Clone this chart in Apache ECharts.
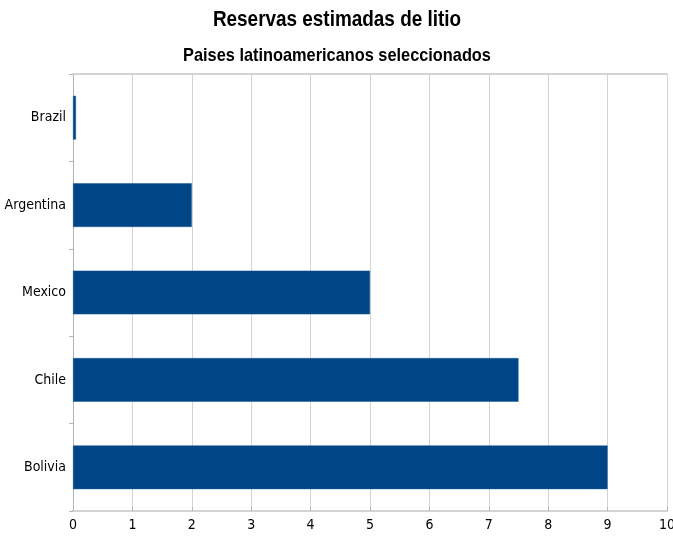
<!DOCTYPE html>
<html><head><meta charset="utf-8">
<script src="https://cdn.jsdelivr.net/npm/echarts@6/dist/echarts.min.js"></script>
<style>html,body{margin:0;padding:0;background:#fff}#c{width:673px;height:537px}</style>
</head><body><div id="c"></div>
<script>
const categories = ["Bolivia", "Chile", "Mexico", "Argentina", "Brazil"];
const values = [9, 7.5, 5, 2, 0.05];
const xTicks = [0, 1, 2, 3, 4, 5, 6, 7, 8, 9, 10];
const titleText = "Reservas estimadas de litio";
const subtitleText = "Paises latinoamericanos seleccionados";

const FONT = '"Liberation Sans Narrow", "DejaVu Sans Condensed", "Liberation Sans", sans-serif';
const TFONT = '"Liberation Sans", Arial, sans-serif';
const chart = echarts.init(document.getElementById('c'), null, {renderer: 'canvas'});
chart.setOption({
  animation: false,
  backgroundColor: '#ffffff',
  graphic: [
    {type: 'text', x: 337, y: 20, scaleX: 0.86, style: {text: titleText, fontFamily: TFONT, fontSize: 22, fontWeight: 'bold', fill: '#000', align: 'center', verticalAlign: 'middle'}},
    {type: 'text', x: 337, y: 55.5, scaleX: 0.86, style: {text: subtitleText, fontFamily: TFONT, fontSize: 19, fontWeight: 'bold', fill: '#000', align: 'center', verticalAlign: 'middle'}}
  ],
  grid: {left: 73, right: 6, top: 74, bottom: 26, containLabel: false, outerBoundsMode: 'none'},
  xAxis: [{
    type: 'value', min: xTicks[0], max: xTicks[xTicks.length - 1], interval: 1,
    axisLine: {show: true, lineStyle: {color: '#d4d4d4', width: 2}},
    axisTick: {show: true, inside: true, length: 4, lineStyle: {color: '#b3b3b3'}},
    splitLine: {show: true, lineStyle: {color: '#d4d4d4', width: 1}},
    axisLabel: {fontFamily: FONT, fontSize: 14, color: '#000', margin: 7}
  }, {
    type: 'value', position: 'top', min: 0, max: 10, interval: 1,
    axisLine: {show: true, lineStyle: {color: '#d4d4d4', width: 2}},
    axisTick: {show: false}, axisLabel: {show: false}, splitLine: {show: false}
  }],
  yAxis: {
    type: 'category', data: categories,
    axisLine: {show: true, lineStyle: {color: '#b3b3b3', width: 1}},
    axisTick: {show: true, length: 4, lineStyle: {color: '#b3b3b3'}},
    axisLabel: {fontFamily: FONT, fontSize: 14, color: '#000', margin: 7},
    splitLine: {show: false}
  },
  series: [{
    type: 'bar', data: values, barWidth: '50%', xAxisIndex: 0,
    itemStyle: {color: '#004586', borderColor: '#1a5a94', borderWidth: 0.5}
  }]
});
</script></body></html>
